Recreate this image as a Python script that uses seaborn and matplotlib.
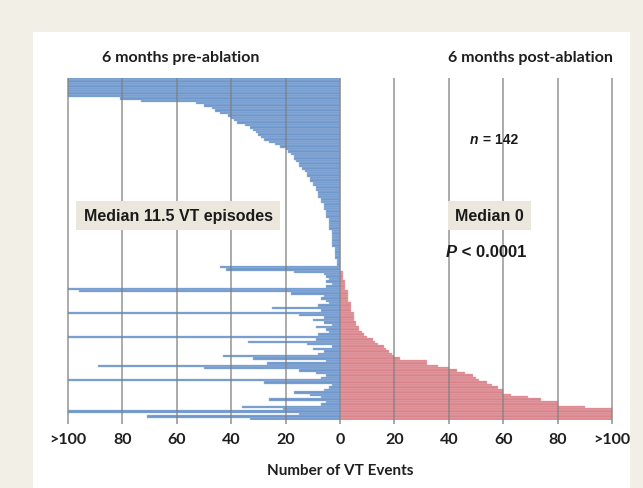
import numpy as np
import pandas as pd
import matplotlib
matplotlib.use("Agg")
import matplotlib.pyplot as plt
from matplotlib.patches import Rectangle
import seaborn as sns

# VT events per patient, 6 months before ablation (100 means >100)
pre_events = [
    100, 100, 100, 100, 100, 100, 100, 100, 81, 73,
    53, 50, 47, 46, 44, 41, 40, 39, 38, 35,
    33, 32, 31, 30, 29, 28, 26, 24, 22, 20,
    19, 18, 17, 17, 16, 15, 15, 14, 13, 12,
    12, 11, 11, 10, 10, 9, 9, 8, 8, 8,
    7, 7, 6, 6, 6, 5, 5, 5, 4, 4,
    4, 4, 4, 3, 3, 3, 3, 3, 3, 3,
    2, 2, 2, 2, 2, 1, 1, 1, 44, 42,
    17, 6, 5, 4, 5, 3, 5, 100, 96, 18,
    6, 7, 5, 4, 8, 25, 7, 100, 15, 6,
    10, 6, 3, 9, 5, 4, 8, 100, 9, 34,
    12, 3, 10, 6, 8, 43, 32, 5, 27, 89,
    50, 15, 9, 5, 7, 100, 28, 3, 4, 6,
    17, 11, 7, 26, 5, 7, 36, 21, 100, 15,
    71, 33,
]

# VT events per patient, 6 months after ablation (100 means >100)
post_events = [0] * 80 + [
    1, 1, 1, 1, 2, 2, 2, 2, 3, 3,
    3, 3, 3, 4, 4, 4, 4, 5, 5, 5,
    5, 6, 6, 7, 7, 8, 9, 10, 12, 13,
    14, 16, 17, 18, 19, 20, 22, 32, 32, 36,
    40, 43, 46, 49, 50, 51, 54, 56, 58, 60,
    60, 63, 69, 74, 80, 80, 90, 100, 100, 100,
    100, 100,
]

tick_values = [-100, -80, -60, -40, -20, 0, 20, 40, 60, 80, 100]
tick_labels = [">100", "80", "60", "40", "20", "0", "20", "40", "60", "80", ">100"]

df = pd.DataFrame({
    "patient": np.arange(len(pre_events)),
    "pre": -np.array(pre_events),
    "post": np.array(post_events),
})

sns.set_style("white")
plt.rcParams["font.family"] = ["Liberation Sans", "DejaVu Sans"]
label_font = ["Lato", "DejaVu Sans"]

blue = "#6e97cd"
red = "#d9848b"

fig = plt.figure(figsize=(6.43, 4.89), dpi=100)
fig.patch.set_facecolor("#f2efe6")
fig.patches.append(Rectangle((33 / 643, 0), 597 / 643, 456 / 489,
                             transform=fig.transFigure, facecolor="white",
                             edgecolor="none", zorder=-1))

ax = fig.add_axes([66.4 / 643, 68 / 489, 547.2 / 643, 342 / 489])
ax.set_zorder(2)
ax.set_facecolor("none")

sns.barplot(data=df, x="pre", y="patient", orient="h", color=blue,
            width=1.0, edgecolor="#a7c0e2", linewidth=0.3, saturation=1,
            ax=ax)
sns.barplot(data=df, x="post", y="patient", orient="h", color=red,
            width=1.0, edgecolor="#ebb3b7", linewidth=0.3, saturation=1,
            ax=ax)

ax.set_xlim(-100.6, 100.6)
ax.set_ylim(len(pre_events) - 0.5, -0.5)
for v in tick_values:
    ax.axvline(v, color="#7f7f7f", alpha=0.7, lw=1.3, zorder=3)

for s in ax.spines.values():
    s.set_visible(False)
ax.set_yticks([])
ax.set_ylabel("")
ax.set_xticks(tick_values)
ax.set_xticklabels(tick_labels, fontsize=11.5, fontweight="bold",
                   family=label_font, color="#1e1e1e")
ax.tick_params(axis="x", length=3, width=1.3, color="#a0a0a0", pad=6,
               bottom=True)
ax.set_xlabel("Number of VT Events", fontsize=11, fontweight="bold",
              family=label_font, color="#1e1e1e", labelpad=12)

# panel headings
fig.text(181 / 643, 1 - 58 / 489, "6 months pre-ablation", ha="center",
         va="center", fontsize=11.5, fontweight="bold",
         family=label_font, color="#1e1e1e")
fig.text(530 / 643, 1 - 58 / 489, "6 months post-ablation", ha="center",
         va="center", fontsize=11.5, fontweight="bold",
         family=label_font, color="#1e1e1e")

box = dict(boxstyle="square,pad=0.45", facecolor="#ebe7dc", edgecolor="none")
ax.text(-59.5, 56.5, "Median 11.5 VT episodes", ha="center", va="center",
        fontsize=11.5, fontweight="bold", color="#1a1a1a", bbox=box, zorder=5)
ax.text(55, 56.5, "Median 0", ha="center", va="center",
        fontsize=11.5, fontweight="bold", color="#1a1a1a", bbox=box, zorder=5)

ax.text(51, 25, "n", ha="right", va="center", fontsize=10,
        fontweight="bold", style="italic", color="#1a1a1a", zorder=5)
ax.text(51, 25, " = 142", ha="left", va="center", fontsize=10,
        fontweight="bold", color="#1a1a1a", zorder=5)
ax.text(43, 71.5, "P", ha="right", va="center", fontsize=12,
        fontweight="bold", style="italic", color="#1a1a1a", zorder=5)
ax.text(43, 71.5, " < 0.0001", ha="left", va="center", fontsize=12,
        fontweight="bold", color="#1a1a1a", zorder=5)

fig.savefig("out.png", dpi=100, facecolor=fig.get_facecolor())
